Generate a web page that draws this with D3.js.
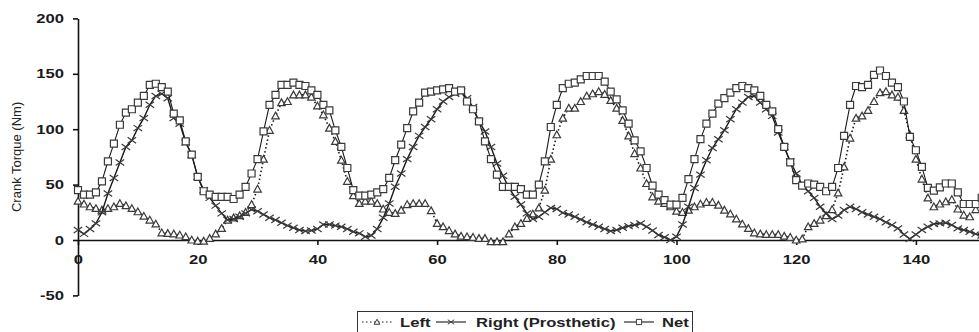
<!DOCTYPE html>
<html lang="en">
<head>
<meta charset="utf-8">
<title>Crank Torque</title>
<script src="https://cdn.jsdelivr.net/npm/d3@7"></script>
<style>
  body { margin: 0; background: #fff; }
  svg { display: block; font-family: "Liberation Sans", Arial, sans-serif; }
</style>
</head>
<body>
<script>
// torque per crank sample (Nm), one value per sample index
var leftTorque = [35, 32.5, 30, 28.5, 27, 28.5, 30, 33, 31, 28.5,
  25.5, 21.5, 18, 14.5, 6.5, 6, 5.5, 4.5, 3, 0,
  -1, -1, 1.5, 5.5, 10.5, 18, 20, 22, 25, 32,
  46, 73, 99, 112, 124, 125, 131, 131, 131, 129,
  121, 113, 101, 89, 72, 53, 40, 33, 35, 35,
  33, 28, 25, 24, 27, 32, 33, 33, 33, 26.5,
  15, 12, 8.5, 5.5, 3.5, 3, 2.5, 1.5, 1.5, -1.5,
  -1.5, -1.5, 5.5, 12, 15, 19.5, 23.5, 29, 45, 73,
  95, 110, 119, 119, 125, 130, 132, 134, 131.5, 126,
  119, 108, 94, 78, 65, 51, 39, 35, 33, 30,
  26, 25, 27, 30, 32.5, 34, 34, 31.5, 27, 23.5,
  19, 14.5, 10.5, 6.5, 5.5, 5, 5, 5, 3.5, 2.5,
  0, 1, 12, 15, 18, 22, 27.5, 42.5, 66, 92,
  110, 112, 117, 125, 133, 134, 131, 129, 117, 95,
  73, 55, 38, 30, 32.5, 34.5, 36.5, 28, 22.5, 21,
  27.5, 32];

var rightTorque = [9, 5.5, 10, 15, 25, 42, 56, 70, 84, 90,
  101, 110, 122, 130, 132, 128, 110, 105, 88, 77,
  57, 45, 38, 31, 24, 18, 19, 21, 24, 27.5,
  26, 23, 20, 18, 15.5, 13, 11, 9, 8, 8.5,
  10, 14, 14, 13, 12, 10, 7.5, 6, 3, 4,
  10, 20, 33, 48, 60, 73, 84, 94, 102, 109,
  118, 125, 129, 132, 134, 128, 120, 107, 98, 84,
  69, 58, 47, 39, 32, 24, 19, 21, 25, 29,
  28, 24.5, 23, 21, 18.5, 16, 14, 12, 10, 8,
  9, 11, 12.5, 13.5, 15, 12, 8.5, 4.5, 2.5, 0,
  3, 14, 30, 47, 59, 72, 83, 91, 99, 109,
  118, 124, 129, 130, 124, 118, 112, 97, 84, 71,
  60, 50, 44, 38, 30, 24, 19, 22, 27, 30,
  28, 25, 23, 21, 19, 16, 13.5, 10.5, 5, 1,
  5, 9, 12, 14.5, 15, 15.5, 13.5, 10.5, 9, 7.5,
  5.5, 4];

var netTorque = [45, 41, 41, 43, 53, 71, 87, 104, 115, 118,
  124, 130, 140, 141, 138, 134, 114, 108, 89, 77,
  57, 44, 41, 39, 39, 39, 37, 41, 48, 60,
  73, 98, 122, 131, 140, 140, 142, 140, 139, 135,
  131, 122, 117, 99, 84, 65, 45, 40, 40, 41,
  43, 46, 56, 72, 86, 101, 116, 124, 133, 134,
  135, 136, 137, 134, 135, 125, 118, 107, 89, 73,
  59, 48, 48, 48, 46, 41, 41, 50, 71, 102,
  122, 137, 141, 142, 145, 148, 148, 148, 143, 134,
  127, 117, 105, 90, 80, 65, 49, 41, 36, 32,
  32, 38, 55, 73, 91, 105, 114, 123, 128, 133,
  137, 139, 137, 135, 130, 122, 116, 100, 84, 70,
  54, 49, 51, 50, 48, 44, 48, 65, 94, 122,
  139, 138, 140, 149, 153, 148, 142, 138, 125, 93,
  81, 66, 47, 44.5, 47.5, 51, 51, 43, 32.5, 32.5,
  32.5, 38];

var xTicks = [0, 20, 40, 60, 80, 100, 120, 140];
var yTicks = [-50, 0, 50, 100, 150, 200];
var seriesNames = ["Left", "Right (Prosthetic)", "Net"];

var w = 979;
var h = 332;
var stretch = 1.28;   // the original picture is widened, so text is too

var svg = d3.select("body").append("svg")
    .attr("width", w)
    .attr("height", h);

var x = d3.scaleLinear().domain([0, 160]).range([78, 78 + 160 * 5.985]);
var y = d3.scaleLinear().domain([-50, 200]).range([295.4, 18.4]);

// axes
var yAxis = svg.append("g")
    .attr("transform", "translate(" + x(0) + ",0)")
    .call(d3.axisLeft(y).tickValues(yTicks).tickFormat(function (d) { return String(d); })
        .tickSize(5).tickSizeOuter(0).tickPadding(9));

var xAxis = svg.append("g")
    .attr("transform", "translate(0," + y(0) + ")")
    .call(d3.axisBottom(x).tickValues(xTicks).tickFormat(function (d) { return String(d); })
        .tickSize(5).tickSizeOuter(0).tickPadding(10));

[yAxis, xAxis].forEach(function (g) {
    g.select(".domain").attr("stroke", "#111").attr("stroke-width", 1.6);
    g.selectAll(".tick line").attr("stroke", "#111").attr("stroke-width", 1.6);
    g.selectAll(".tick text")
        .attr("fill", "#1a1a1a")
        .attr("font-size", "13px")
        .attr("font-weight", "bold")
        .attr("font-family", "Liberation Sans, Arial, sans-serif");
});

yAxis.selectAll(".tick text").each(function () {
    var t = d3.select(this);
    var tx = +t.attr("x");
    t.attr("x", 0).attr("transform", "translate(" + tx + ",0) scale(" + stretch + ",1)");
});
xAxis.selectAll(".tick text").attr("transform", "scale(" + stretch + ",1)");

svg.append("text")
    .attr("transform", "translate(21," + y(75) + ") rotate(-90)")
    .attr("text-anchor", "middle")
    .attr("font-size", "13px")
    .attr("fill", "#222")
    .text("Crank Torque (Nm)");

// markers
function trianglePath(s) {
    var r = s / 2;
    return "M0," + (-r) + "L" + r + "," + (r * 0.8) + "L" + (-r) + "," + (r * 0.8) + "Z";
}
function crossPath(s) {
    var r = s / 2;
    return "M" + (-r) + "," + (-r * 0.7) + "L" + r + "," + (r * 0.7) +
        "M" + (-r) + "," + (r * 0.7) + "L" + r + "," + (-r * 0.7);
}
function squarePath(s) {
    var r = s / 2;
    return "M" + (-r) + "," + (-r) + "H" + r + "V" + r + "H" + (-r) + "Z";
}

var series = [
    { name: seriesNames[0], values: leftTorque, dash: "1.5,2.5", width: 1.6, marker: trianglePath, size: 7.5, fill: "#fff" },
    { name: seriesNames[1], values: rightTorque, dash: null, width: 1.4, marker: crossPath, size: 8.5, fill: "none" },
    { name: seriesNames[2], values: netTorque, dash: null, width: 1.1, marker: squarePath, size: 7, fill: "#fff" }
];

var line = d3.line()
    .x(function (d, i) { return x(i); })
    .y(function (d) { return y(d); });

series.forEach(function (s) {
    svg.append("path")
        .datum(s.values)
        .attr("fill", "none")
        .attr("stroke", "#1a1a1a")
        .attr("stroke-width", s.width)
        .attr("stroke-dasharray", s.dash)
        .attr("d", line);

    svg.append("g").selectAll("path")
        .data(s.values)
        .enter()
        .append("path")
        .attr("transform", function (d, i) { return "translate(" + x(i) + "," + y(d) + ")"; })
        .attr("d", s.marker(s.size))
        .attr("fill", s.fill)
        .attr("stroke", "#3a3a3a")
        .attr("stroke-width", 1.2);
});

// legend
var legend = svg.append("g");
legend.append("rect")
    .attr("x", 357.5).attr("y", 311.5)
    .attr("width", 335).attr("height", 24)
    .attr("fill", "#fff")
    .attr("stroke", "#333")
    .attr("stroke-width", 1);

var legendItems = [
    { lx: 362, tx: 400 },
    { lx: 436, tx: 476 },
    { lx: 624, tx: 662 }
];

series.forEach(function (s, i) {
    var it = legendItems[i];
    var ly = 322;
    legend.append("line")
        .attr("x1", it.lx).attr("x2", it.lx + 30)
        .attr("y1", ly).attr("y2", ly)
        .attr("stroke", "#1a1a1a")
        .attr("stroke-width", 1.1)
        .attr("stroke-dasharray", s.dash);
    legend.append("path")
        .attr("transform", "translate(" + (it.lx + 15) + "," + ly + ")")
        .attr("d", s.marker(s.size * 0.75))
        .attr("fill", s.fill)
        .attr("stroke", "#3a3a3a")
        .attr("stroke-width", 1);
    legend.append("text")
        .attr("transform", "translate(" + it.tx + "," + (ly + 5) + ") scale(" + stretch + ",1)")
        .attr("font-size", "13px")
        .attr("font-weight", "bold")
        .attr("fill", "#222")
        .text(s.name);
});
</script>
</body>
</html>
